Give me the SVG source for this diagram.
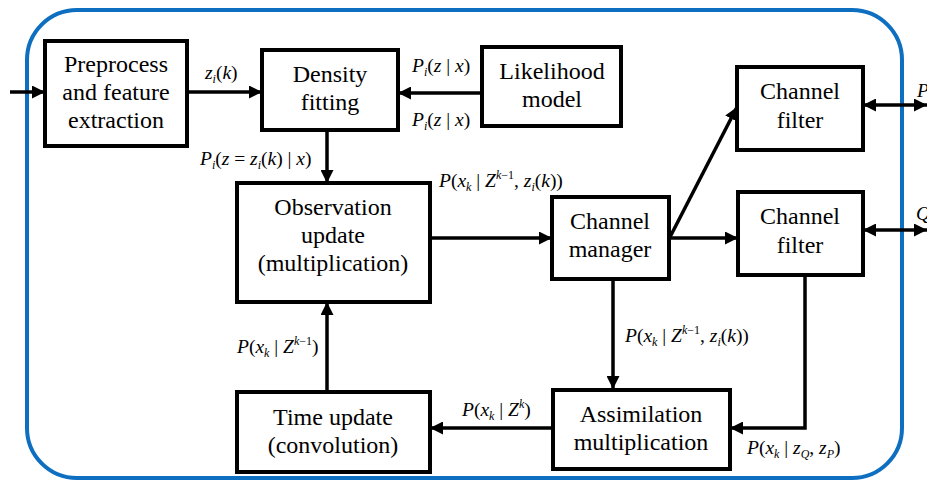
<svg xmlns="http://www.w3.org/2000/svg" width="927" height="480" viewBox="0 0 927 480" font-family="'Liberation Serif', 'DejaVu Serif', serif">
<defs>
<style>
.frame{fill:none;stroke:#0E6FC1;stroke-width:4}
.box{fill:#fff;stroke:#000;stroke-width:4}
.t{font-size:24px;text-anchor:middle;fill:#000}
.m{font-size:19.5px;font-style:italic;fill:#000}
.u{font-style:normal}
.s{font-size:12px}
.ln{fill:none;stroke:#000;stroke-width:3.5}
.ar{marker-end:url(#ah)}
.dbl{marker-start:url(#ah);marker-end:url(#ah)}
</style>
<marker id="ah" viewBox="0 0 13 13" refX="13" refY="6.5" markerWidth="13" markerHeight="13" markerUnits="userSpaceOnUse" orient="auto-start-reverse">
<path d="M0,0 L13,6.5 L0,13 z" fill="#000"/>
</marker>
</defs>
<rect class="frame" x="27" y="10" width="875" height="468" rx="50" ry="50"/>

<g id="connectors">
<path class="ln ar" d="M10,92 H45"/>
<path class="ln ar" d="M187,92 H262"/>
<path class="ln ar" d="M482,93 H398"/>
<path class="ln ar" d="M327,130 V183"/>
<path class="ln ar" d="M430,238 H552"/>
<path class="ln ar" d="M669,238 H738"/>
<path class="ln ar" d="M670,237 L737,107"/>
<path class="ln dbl" d="M863,105 H927"/>
<path class="ln dbl" d="M863,230 H927"/>
<path class="ln ar" d="M613,279 V389"/>
<path class="ln ar" d="M805,275 V428 H730"/>
<path class="ln ar" d="M553,428 H430"/>
<path class="ln ar" d="M327,392 V302"/>
</g>

<g id="preprocess">
<rect class="box" x="45" y="41" width="142" height="105"/>
<text class="t" x="116" y="72">Preprocess</text>
<text class="t" x="116" y="100">and feature</text>
<text class="t" x="116" y="128">extraction</text>
</g>
<g id="density">
<rect class="box" x="262" y="50" width="136" height="80"/>
<text class="t" x="330" y="82">Density</text>
<text class="t" x="330" y="110">fitting</text>
</g>
<g id="likelihood">
<rect class="box" x="482" y="47" width="139" height="79"/>
<text class="t" x="552" y="79">Likelihood</text>
<text class="t" x="552" y="107">model</text>
</g>
<g id="observation">
<rect class="box" x="237" y="183" width="193" height="119"/>
<text class="t" x="333" y="215">Observation</text>
<text class="t" x="333" y="243">update</text>
<text class="t" x="333" y="271">(multiplication)</text>
</g>
<g id="time">
<rect class="box" x="237" y="392" width="193" height="80"/>
<text class="t" x="333" y="425">Time update</text>
<text class="t" x="333" y="453">(convolution)</text>
</g>
<g id="manager">
<rect class="box" x="552" y="197" width="117" height="82"/>
<text class="t" x="610" y="229">Channel</text>
<text class="t" x="610" y="257">manager</text>
</g>
<g id="filter1">
<rect class="box" x="737" y="67" width="126" height="83"/>
<text class="t" x="800" y="99">Channel</text>
<text class="t" x="800" y="128">filter</text>
</g>
<g id="filter2">
<rect class="box" x="738" y="192" width="125" height="83"/>
<text class="t" x="800" y="224">Channel</text>
<text class="t" x="800" y="253">filter</text>
</g>
<g id="assimilation">
<rect class="box" x="553" y="390" width="177" height="79"/>
<text class="t" x="641" y="422">Assimilation</text>
<text class="t" x="641" y="450">multiplication</text>
</g>

<g id="labels">
<text class="m" x="205" y="79">z<tspan class="s" dy="4">i</tspan><tspan class="u" dy="-4">(</tspan>k<tspan class="u">)</tspan></text>
<text class="m" x="412" y="72">P<tspan class="s" dy="4">i</tspan><tspan class="u" dy="-4">(</tspan>z<tspan class="u"> | </tspan>x<tspan class="u">)</tspan></text>
<text class="m" x="412" y="126">P<tspan class="s" dy="4">i</tspan><tspan class="u" dy="-4">(</tspan>z<tspan class="u"> | </tspan>x<tspan class="u">)</tspan></text>
<text class="m" x="200" y="165">P<tspan class="s" dy="4">i</tspan><tspan class="u" dy="-4">(</tspan>z<tspan class="u"> = </tspan>z<tspan class="s" dy="4">i</tspan><tspan class="u" dy="-4">(</tspan>k<tspan class="u">) | </tspan>x<tspan class="u">)</tspan></text>
<text class="m" x="439" y="187">P<tspan class="u">(</tspan>x<tspan class="s" dy="4">k</tspan><tspan class="u" dy="-4"> | </tspan>Z<tspan class="s" dy="-8">k<tspan class="u">−1</tspan></tspan><tspan class="u" dy="8">, </tspan>z<tspan class="s" dy="4">i</tspan><tspan class="u" dy="-4">(</tspan>k<tspan class="u">))</tspan></text>
<text class="m" x="625" y="342">P<tspan class="u">(</tspan>x<tspan class="s" dy="4">k</tspan><tspan class="u" dy="-4"> | </tspan>Z<tspan class="s" dy="-8">k<tspan class="u">−1</tspan></tspan><tspan class="u" dy="8">, </tspan>z<tspan class="s" dy="4">i</tspan><tspan class="u" dy="-4">(</tspan>k<tspan class="u">))</tspan></text>
<text class="m" x="237" y="353">P<tspan class="u">(</tspan>x<tspan class="s" dy="4">k</tspan><tspan class="u" dy="-4"> | </tspan>Z<tspan class="s" dy="-8">k<tspan class="u">−1</tspan></tspan><tspan class="u" dy="8">)</tspan></text>
<text class="m" x="462" y="416">P<tspan class="u">(</tspan>x<tspan class="s" dy="4">k</tspan><tspan class="u" dy="-4"> | </tspan>Z<tspan class="s" dy="-8">k</tspan><tspan class="u" dy="8">)</tspan></text>
<text class="m" x="747" y="454">P<tspan class="u">(</tspan>x<tspan class="s" dy="4">k</tspan><tspan class="u" dy="-4"> | </tspan>z<tspan class="s" dy="4">Q</tspan><tspan class="u" dy="-4">, </tspan>z<tspan class="s" dy="4">P</tspan><tspan class="u" dy="-4">)</tspan></text>
<text class="m" x="917" y="97">P</text>
<text class="m" x="916" y="220">Q</text>
</g>
</svg>
